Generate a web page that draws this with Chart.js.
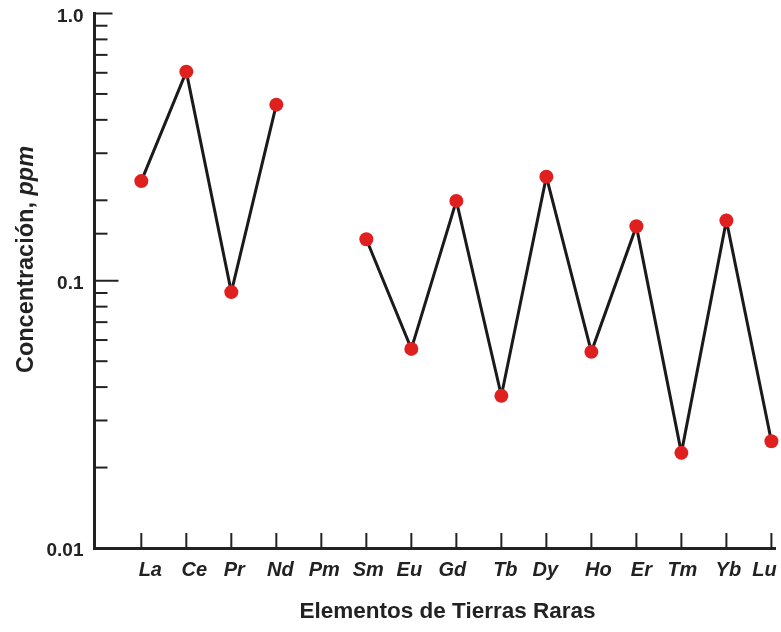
<!DOCTYPE html>
<html><head><meta charset="utf-8">
<script src="https://cdn.jsdelivr.net/npm/chart.js@4.4.1/dist/chart.umd.min.js"></script>
<style>html,body{margin:0;padding:0;background:#fff}#wrap{width:781px;height:632px}</style>
</head><body><div id="wrap"><canvas id="c" width="781" height="632"></canvas></div>
<script>
// ---- data ----
const elements = ['La','Ce','Pr','Nd','Pm','Sm','Eu','Gd','Tb','Dy','Ho','Er','Tm','Yb','Lu'];
const concentration = [0.236, 0.606, 0.0907, 0.456, null, 0.143, 0.0556, 0.199, 0.0371, 0.245, 0.0542, 0.160, 0.0227, 0.168, 0.0251];
const majorTickValues = [0.01, 0.1, 1];
const majorTickLabels = ['0.01', '0.1', '1.0'];
const xTitle = 'Elementos de Tierras Raras';
const yTitleMain = 'Concentración, ';
const yTitleUnit = 'ppm';

// ---- style ----
const FONT = 'Arial, "Liberation Sans", sans-serif';
const INK = '#222';
const labelShift = [9, 8, 3, 4, 3, 2, -2, -4, 4, -1, 7, 5, 1, 2, -7]; // hand-lettered label placement

const points = elements.map((e, i) => ({x: i + 1, y: concentration[i]}));

function majorIndex(v){
  return majorTickValues.findIndex(m => Math.abs(m - v) / m < 1e-6);
}
function noScalePadding(s){
  s.paddingTop = 0; s.paddingBottom = 0; s.paddingLeft = 0; s.paddingRight = 0;
}

const axisMarks = {
  id: 'axisMarks',
  beforeDatasetsDraw(chart){
    const {ctx, chartArea: a, scales: {x, y}} = chart;
    ctx.save();
    ctx.strokeStyle = INK;
    ctx.lineWidth = 2;
    y.ticks.forEach(t => {
      const v = t.value;
      const mi = majorIndex(v);
      if (mi === 0) return;
      let len = 13;
      if (mi === 1) len = 24;
      if (mi === 2) len = 18;
      const py = y.getPixelForValue(v);
      ctx.beginPath(); ctx.moveTo(a.left, py); ctx.lineTo(a.left + len, py); ctx.stroke();
    });
    ctx.fillStyle = INK;
    ctx.font = 'italic bold 20px ' + FONT;
    ctx.textAlign = 'center';
    ctx.textBaseline = 'alphabetic';
    x.ticks.forEach(t => {
      const i = Math.round(t.value) - 1;
      if (i < 0 || i >= elements.length || Math.abs(t.value - i - 1) > 1e-9) return;
      const px = x.getPixelForValue(t.value);
      ctx.beginPath(); ctx.moveTo(px, a.bottom); ctx.lineTo(px, a.bottom - 15); ctx.stroke();
      ctx.fillText(elements[i], px + labelShift[i], a.bottom + 28);
    });
    ctx.restore();
  },
  afterDraw(chart){
    const {ctx} = chart;
    ctx.save();
    ctx.fillStyle = INK;
    // x title
    ctx.font = 'bold 22.5px ' + FONT;
    ctx.textAlign = 'center';
    ctx.textBaseline = 'alphabetic';
    ctx.fillText(xTitle, 447.5, 618);
    // y title (mixed style)
    ctx.translate(33, 259.5);
    ctx.rotate(-Math.PI / 2);
    ctx.font = 'bold 23.5px ' + FONT;
    const w1 = ctx.measureText(yTitleMain).width;
    ctx.font = 'italic bold 23.5px ' + FONT;
    const w2 = ctx.measureText(yTitleUnit).width;
    const sx = -(w1 + w2) / 2;
    ctx.textAlign = 'left';
    ctx.font = 'bold 23.5px ' + FONT;
    ctx.fillText(yTitleMain, sx, 0);
    ctx.font = 'italic bold 23.5px ' + FONT;
    ctx.fillText(yTitleUnit, sx + w1, 0);
    ctx.restore();
  }
};

new Chart(document.getElementById('c'), {
  type: 'line',
  data: {
    datasets: [{
      data: points,
      borderColor: '#1a1a1a',
      borderWidth: 3,
      tension: 0,
      spanGaps: false,
      clip: false,
      pointRadius: 7,
      pointHoverRadius: 7,
      pointBackgroundColor: '#e0201f',
      pointBorderWidth: 0,
      pointBorderColor: '#e0201f'
    }]
  },
  options: {
    responsive: false,
    animation: false,
    devicePixelRatio: 1,
    layout: {autoPadding: false, padding: {top: 13.5, right: 6, left: 0, bottom: 0}},
    plugins: {legend: {display: false}, tooltip: {enabled: false}},
    scales: {
      x: {
        type: 'linear', min: -0.04, max: 15.08,
        grid: {display: false, drawTicks: false},
        border: {display: true, color: INK, width: 3},
        ticks: {
          display: false, stepSize: 1, includeBounds: false, autoSkip: false, maxRotation: 0,
          callback: v => (Number.isInteger(v) && v >= 1 && v <= elements.length) ? elements[v - 1] : ''
        },
        afterFit: s => { s.height = 84; noScalePadding(s); }
      },
      y: {
        type: 'logarithmic', min: 0.01, max: 1,
        grid: {display: false, drawTicks: false},
        border: {display: true, color: INK, width: 3},
        ticks: {
          autoSkip: false, padding: 11, labelOffset: 3, color: INK,
          font: {family: FONT, size: 19, weight: 'bold'},
          callback: v => { const i = majorIndex(v); return i >= 0 ? majorTickLabels[i] : ''; }
        },
        afterFit: s => { s.width = 94.5; noScalePadding(s); }
      }
    }
  },
  plugins: [axisMarks]
});
</script>
</body></html>
